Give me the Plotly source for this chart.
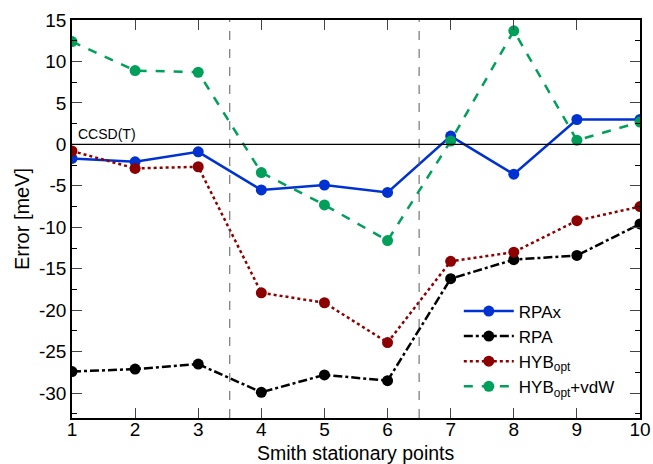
import plotly.graph_objects as go

points = [1, 2, 3, 4, 5, 6, 7, 8, 9, 10]
rpax = [-1.7, -2.1, -0.9, -5.5, -4.9, -5.8, 1.0, -3.6, 3.0, 3.0]
rpa = [-27.4, -27.1, -26.5, -29.9, -27.8, -28.5, -16.2, -13.9, -13.4, -9.6]
hyb_opt = [-0.8, -2.9, -2.7, -17.9, -19.1, -23.9, -14.1, -13.0, -9.2, -7.5]
hyb_vdw = [12.4, 8.9, 8.7, -3.4, -7.3, -11.6, 0.4, 13.7, 0.5, 2.7]

y_ticks = [15, 10, 5, 0, -5, -10, -15, -20, -25, -30]
y_ticktext = ["15", "10", "5", "0", "-5", "-10", "-15", "-20", "-25", "-30"]
separators = [3.5, 6.5]

FONT = "Liberation Sans, Arial, Helvetica, sans-serif"

series = [
    ("RPAx", rpax, "rgb(0,50,210)", "solid"),
    ("RPA", rpa, "black", "dashdot"),
    ("HYB<sub>opt</sub>", hyb_opt, "rgb(140,0,0)", "dot"),
    ("HYB<sub>opt</sub>+vdW", hyb_vdw, "rgb(0,160,90)", "dash"),
]

fig = go.Figure()
for name, vals, col, dash in series:
    fig.add_trace(go.Scatter(
        x=points, y=vals, name=name, mode="lines+markers",
        line=dict(color=col, width=2.5, dash=dash),
        marker=dict(color=col, size=11),
    ))

for s in separators:
    fig.add_shape(type="line", xref="x", yref="paper", x0=s, x1=s, y0=0, y1=1,
                  line=dict(color="rgb(90,90,90)", width=1, dash="dash"))
fig.add_shape(type="line", xref="paper", yref="y", x0=0, x1=1, y0=0, y1=0,
              line=dict(color="black", width=1.2))
fig.add_annotation(x=0, xref="paper", y=0, yref="y", text="CCSD(T)",
                   showarrow=False, xanchor="left", yanchor="bottom",
                   xshift=4, yshift=0, font=dict(family=FONT, size=14, color="black"))
fig.add_annotation(x=0.5, xref="paper", y=0, yref="paper", text="Smith stationary points",
                   showarrow=False, xanchor="center", yanchor="middle",
                   yshift=-35, borderpad=0, font=dict(family=FONT, size=19.5, color="black"))

fig.update_layout(
    width=653, height=464,
    margin=dict(l=72, r=13, t=20, b=46),
    paper_bgcolor="white", plot_bgcolor="white",
    font=dict(family=FONT, size=20, color="black"),
    showlegend=True,
    legend=dict(x=0.681, y=0.034, xanchor="left", yanchor="bottom",
                bgcolor="rgba(255,255,255,0)", font=dict(size=17),
                tracegroupgap=0, itemwidth=50),
    xaxis=dict(
        range=[1, 10], tickvals=points, ticks="inside", ticklen=10,
        showline=True, linecolor="black", linewidth=1.5, mirror="allticks",
        showgrid=False, zeroline=False, tickfont=dict(size=19), automargin=False,
        ticklabelstandoff=-7,
    ),
    yaxis=dict(
        range=[-33, 15], tickvals=y_ticks, ticktext=y_ticktext,
        ticks="inside", ticklen=10, tickfont=dict(size=19), automargin=False,
        minor=dict(ticks="inside", ticklen=5, dtick=2.5, tick0=0, tickcolor="black"),
        showline=True, linecolor="black", linewidth=1.5, mirror="allticks",
        showgrid=False, zeroline=False,
        title=dict(text="Error [meV]", standoff=4, font=dict(size=20)),
    ),
)

fig.write_html("out.html")
